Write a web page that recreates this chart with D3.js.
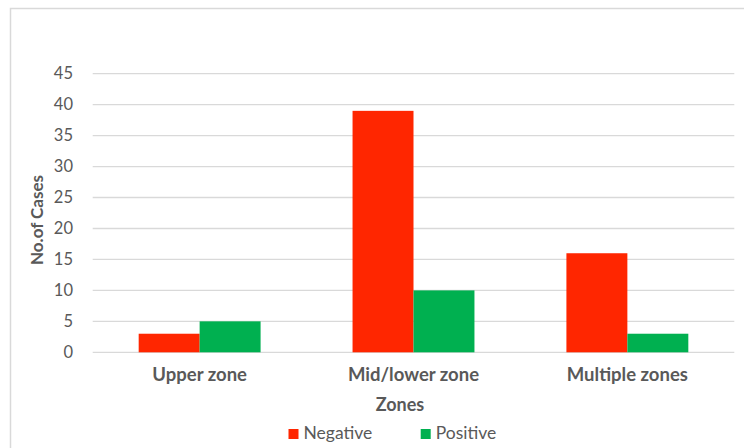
<!DOCTYPE html>
<html>
<head>
<meta charset="utf-8">
<script src="https://cdn.jsdelivr.net/npm/d3@7"></script>
<style>
  html, body { margin: 0; padding: 0; background: #fff; }
  svg { display: block; font-family: Lato, "Open Sans", sans-serif; }
</style>
</head>
<body>
<svg id="chart" width="744" height="448"></svg>
<script>
// Case counts by zone and result
const zones = ["Upper zone", "Mid/lower zone", "Multiple zones"];
const seriesNames = ["Negative", "Positive"];
const negative = [3, 39, 16];
const positive = [5, 10, 3];
const yTicks = [0, 5, 10, 15, 20, 25, 30, 35, 40, 45];

const colors = { Negative: "#FF2600", Positive: "#00B050" };

const svg = d3.select("#chart");
const W = 744, H = 448;
const plot = { left: 92.7, right: 734.3, top: 73.7, bottom: 352.3 };

// Outer frame (left and top edges visible)
svg.append("path")
  .attr("d", `M10.5,${H} L10.5,8.5 L${W},8.5`)
  .attr("fill", "none")
  .attr("stroke", "#D9D9D9")
  .attr("stroke-width", 1.5);

const x0 = d3.scaleBand().domain(zones).range([plot.left, plot.right]).paddingInner(0.43).paddingOuter(0.215);
const x1 = d3.scaleBand().domain(seriesNames).range([0, x0.bandwidth()]);
const y = d3.scaleLinear().domain([0, 45]).range([plot.bottom, plot.top]);

// Gridlines
svg.append("g").selectAll("line").data(yTicks).join("line")
  .attr("x1", plot.left).attr("x2", plot.right)
  .attr("y1", d => y(d)).attr("y2", d => y(d))
  .attr("stroke", "#D9D9D9").attr("stroke-width", 1.3);

// Y axis labels
const yAxis = d3.axisLeft(y).tickValues(yTicks).tickSize(0).tickPadding(0);
const gy = svg.append("g").attr("transform", "translate(73,0)").call(yAxis);
gy.select(".domain").remove();
gy.selectAll("text")
  .attr("fill", "#595959")
  .style("font-size", "16.5px")
  .style("font-family", "Lato, sans-serif");

// Bars
const rows = zones.map((z, i) => ({ zone: z, values: [
  { key: "Negative", value: negative[i] },
  { key: "Positive", value: positive[i] }
]}));

svg.append("g").selectAll("g").data(rows).join("g")
  .attr("transform", d => `translate(${x0(d.zone)},0)`)
  .selectAll("rect").data(d => d.values).join("rect")
  .attr("x", d => x1(d.key))
  .attr("width", x1.bandwidth())
  .attr("y", d => y(d.value))
  .attr("height", d => y(0) - y(d.value))
  .attr("fill", d => colors[d.key]);

// Category labels
const xAxis = d3.axisBottom(x0).tickSize(0).tickPadding(0);
const gx = svg.append("g").attr("transform", `translate(0,${plot.bottom})`).call(xAxis);
gx.select(".domain").remove();
gx.selectAll("text")
  .attr("dy", 0).attr("y", 29)
  .attr("fill", "#595959")
  .style("font-size", "18.5px")
  .style("font-weight", "bold")
  .style("font-family", "Lato, sans-serif");

// Axis titles
svg.append("text")
  .attr("x", 400).attr("y", 410.5)
  .attr("text-anchor", "middle")
  .attr("fill", "#595959")
  .style("font-size", "18px").style("font-weight", "bold")
  .text("Zones");

svg.append("text")
  .attr("transform", "translate(43,220) rotate(-90)")
  .attr("text-anchor", "middle")
  .attr("fill", "#595959")
  .style("font-size", "17px").style("font-weight", "bold")
  .text("No.of Cases");

// Legend
const legendItems = [
  { key: "Negative", x: 288.5 },
  { key: "Positive", x: 420.7 }
];
const lg = svg.append("g").selectAll("g").data(legendItems).join("g")
  .attr("transform", d => `translate(${d.x},429)`);
lg.append("rect").attr("width", 10).attr("height", 10).attr("fill", d => colors[d.key]);
lg.append("text")
  .attr("x", 15).attr("y", 10)
  .attr("fill", "#595959")
  .style("font-size", "17.5px")
  .text(d => d.key);
</script>
</body>
</html>
